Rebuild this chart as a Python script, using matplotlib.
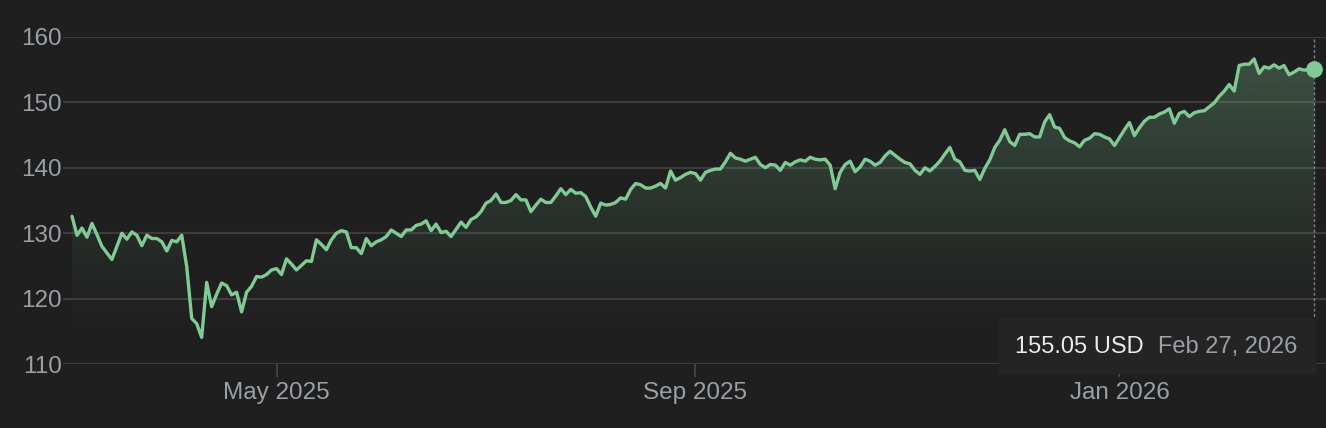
import numpy as np
import pandas as pd
import matplotlib
matplotlib.use("Agg")
import matplotlib.pyplot as plt
from matplotlib.patches import Rectangle

plt.rcParams['font.family'] = ['Liberation Sans', 'DejaVu Sans']

# ---------------- data ----------------
start_date = "2025-03-03"
end_date = "2026-02-27"
market_holidays = ["2025-04-18", "2025-05-26", "2025-06-19", "2025-07-04", "2025-09-01",
                   "2025-11-27", "2025-12-25", "2026-01-01", "2026-01-19", "2026-02-16"]

prices_mar_apr = [132.6, 129.7, 130.8, 129.4, 131.5, 129.8, 128.0, 127.0, 126.0, 128.0,
                  130.0, 129.1, 130.2, 129.7, 128.1, 129.7, 129.2, 129.2, 128.7, 127.3,
                  128.9, 128.7, 129.7, 124.9, 117.0, 116.2, 114.1, 122.5, 118.8, 120.7,
                  122.4, 122.0, 120.6, 121.0, 118.0, 121.0, 121.9, 123.4, 123.3, 123.7,
                  124.4, 124.6]
prices_may_jun = [123.7, 126.1, 125.3, 124.4, 125.1, 125.8, 125.7, 129.0, 128.3, 127.5,
                  129.0, 130.0, 130.4, 130.2, 127.8, 127.8, 126.9, 129.2, 128.1, 128.7,
                  129.0, 129.5, 130.5, 130.0, 129.5, 130.5, 130.5, 131.2, 131.4, 131.9,
                  130.4, 131.4, 130.1, 130.3, 129.5, 130.6, 131.7, 130.9, 132.1, 132.5,
                  133.3]
prices_jul_aug = [134.6, 135.0, 136.0, 134.7, 134.7, 135.0, 135.9, 135.1, 135.1, 133.3,
                  134.3, 135.2, 134.7, 134.7, 135.7, 136.8, 135.9, 136.7, 136.1, 136.2,
                  135.6, 134.0, 132.6, 134.6, 134.3, 134.4, 134.7, 135.4, 135.2, 136.7,
                  137.6, 137.4, 136.9, 136.9, 137.2, 137.6, 136.9, 139.5, 138.1, 138.5,
                  139.0, 139.3, 139.1]
prices_sep_oct = [138.1, 139.3, 139.6, 139.8, 139.8, 140.9, 142.2, 141.5, 141.3, 141.0,
                  141.3, 141.6, 140.5, 140.0, 140.5, 140.4, 139.6, 140.8, 140.4, 140.9,
                  141.2, 141.0, 141.6, 141.3, 141.2, 141.3, 140.4, 136.8, 139.3, 140.5,
                  141.0, 139.4, 140.1, 141.3, 141.0, 140.4, 140.8, 141.8, 142.5, 141.9,
                  141.3, 140.8, 140.6, 139.6]
prices_nov_dec = [139.0, 140.0, 139.5, 140.2, 141.0, 142.1, 143.1, 141.3, 140.9, 139.6,
                  139.5, 139.6, 138.2, 139.9, 141.2, 143.1, 144.2, 145.8, 144.0, 143.4,
                  145.1, 145.1, 145.2, 144.7, 144.7, 147.0, 148.1, 146.2, 146.0, 144.6,
                  144.1, 143.8, 143.2, 144.2, 144.5, 145.2, 145.1, 144.7, 144.4, 143.4,
                  144.6]
prices_jan_feb = [145.8, 146.9, 144.9, 146.1, 147.1, 147.7, 147.7, 148.2, 148.5, 149.0,
                  146.8, 148.3, 148.6, 147.8, 148.4, 148.6, 148.7, 149.3, 149.9, 150.9,
                  151.7, 152.7, 151.7, 155.6, 155.8, 155.8, 156.6, 154.4, 155.4, 155.2,
                  155.7, 155.2, 155.6, 154.2, 154.6, 155.1, 154.9, 155.0, 155.05]

tick_months = ["2025-05", "2025-09", "2026-01"]
tick_labels = ["May 2025", "Sep 2025", "Jan 2026"]
y_ticks = [110, 120, 130, 140, 150, 160]
last_price_text = "155.05 USD"
last_date_text = "Feb 27, 2026"

prices = np.array(prices_mar_apr + prices_may_jun + prices_jul_aug +
                  prices_sep_oct + prices_nov_dec + prices_jan_feb)
dates = pd.bdate_range(start_date, end_date, freq="C", holidays=market_holidays)
n = min(len(dates), len(prices))
dates = dates[-n:]
prices = prices[-n:]
idx = np.arange(n)

# ---------------- style ----------------
BG = "#1f1f1f"
GRID = "#3c3c3c"
GREEN = "#81c995"
LABEL = "#9aa0a6"

W, H = 1326, 428
fig = plt.figure(figsize=(W / 100, H / 100), dpi=100, facecolor=BG)

left_px, right_px = 63, 1326
top_px, bottom_px = 36.7, 364.3
ax = fig.add_axes([left_px / W, 1 - bottom_px / H,
                   (right_px - left_px) / W, (bottom_px - top_px) / H])
ax.set_facecolor(BG)

step = (1314 - 72) / (n - 1)
ax.set_xlim(-(72 - left_px) / step, (n - 1) + (right_px - 1314) / step)
ax.set_ylim(110, 160)

# gradient fill under the line
verts = np.column_stack([np.r_[idx, idx[-1], idx[0]], np.r_[prices, 110, 110]])
poly = plt.Polygon(verts, closed=True, facecolor="none", edgecolor="none")
ax.add_patch(poly)
yy = np.linspace(110, 160, 300)
alpha = np.clip((yy - 113) / (157 - 113), 0, 1) ** 1.3 * 0.30
rgba = np.zeros((300, 1, 4))
g = matplotlib.colors.to_rgb(GREEN)
rgba[..., 0], rgba[..., 1], rgba[..., 2] = g
rgba[:, 0, 3] = alpha
im = ax.imshow(rgba, extent=[idx[0], idx[-1], 110, 160], origin="lower",
               aspect="auto", zorder=1, interpolation="bilinear")
im.set_clip_path(poly)

ax.plot(idx, prices, color=GREEN, lw=2.4, zorder=3, solid_joinstyle="round",
        solid_capstyle="round")
ax.vlines(idx[-1], 110, 160, colors=LABEL, linestyles=(0, (2.2, 1.6)), lw=1.0,
          alpha=0.75, zorder=2)
ax.plot(idx[-1], prices[-1], "o", ms=11, color=GREEN, zorder=5, clip_on=False)

# grid & ticks
ax.set_yticks(y_ticks)
ax.yaxis.grid(True, color=GRID, lw=1.5)
ax.set_axisbelow(True)
for s in ax.spines.values():
    s.set_visible(False)
ax.tick_params(axis="y", length=0, pad=1, labelsize=17.5, labelcolor=LABEL)

month_str = dates.strftime("%Y-%m")
tick_pos = [np.where(month_str == m)[0][0] - 1 for m in tick_months]
ax.set_xticks(tick_pos)
ax.set_xticklabels(tick_labels)
ax.tick_params(axis="x", length=9.5, width=1.2, color="#4a4a4a", pad=3,
               labelsize=17.5, labelcolor=LABEL)

# tooltip box
fig.patches.append(Rectangle((999 / W, 1 - 374 / H), (1316 - 999) / W, (374 - 318) / H,
                             transform=fig.transFigure, facecolor="#242424",
                             edgecolor="none", zorder=4))
fig.text(1015 / W, 1 - 347 / H, last_price_text, color="#e8eaed", fontsize=17,
         va="center", ha="left", zorder=6)
fig.text(1158 / W, 1 - 347 / H, last_date_text, color=LABEL, fontsize=17,
         va="center", ha="left", zorder=6)

fig.savefig("out.png", dpi=100, facecolor=BG)
